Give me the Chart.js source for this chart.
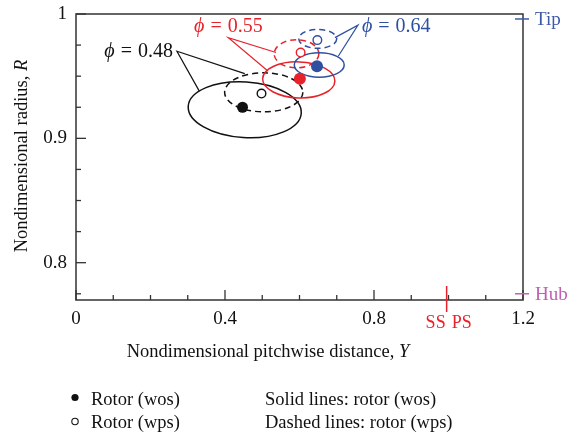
<!DOCTYPE html>
<html><head><meta charset="utf-8">
<script src="https://cdn.jsdelivr.net/npm/chart.js@4/dist/chart.umd.min.js"></script>
<style>html,body{margin:0;padding:0;background:#fff}#wrap{width:580px;height:436px}</style>
</head><body><div id="wrap"><canvas id="c" width="580" height="436"></canvas></div>
<script>
// ---- data ----
const flowCoefficients = ['0.48', '0.55', '0.64'];
// vortex centre, rotor without stall (wos) - filled dots
const wosY = [0.447, 0.601, 0.647];
const wosR = [0.925, 0.948, 0.958];
// vortex centre, rotor with stall (wps) - open dots
const wpsY = [0.498, 0.603, 0.648];
const wpsR = [0.936, 0.969, 0.979];
// solid contours (wos): centre and half extents
const solidCenterY = [0.453, 0.598, 0.653];
const solidCenterR = [0.923, 0.947, 0.959];
const solidHalfY = [0.152, 0.097, 0.067];
const solidHalfR = [0.0224, 0.0145, 0.0098];
const solidTiltDeg = [3.5, 2, 0];
// dashed contours (wps)
const dashedCenterY = [0.504, 0.592, 0.649];
const dashedCenterR = [0.937, 0.968, 0.980];
const dashedHalfY = [0.105, 0.060, 0.051];
const dashedHalfR = [0.0157, 0.0113, 0.0076];
// leader lines of the phi labels
const labelAnchorY = [0.271, 0.409, 0.757];
const labelAnchorR = [0.970, 0.981, 0.991];
const leaderSolidY = [0.331, 0.516, 0.704];
const leaderSolidR = [0.938, 0.954, 0.966];
const leaderDashedY = [0.453, 0.537, 0.695];
const leaderDashedR = [0.952, 0.969, 0.981];
// axes
const xMajorTicks = [0, 0.4, 0.8, 1.2];
const xTickLabels = ['0', '0.4', '0.8', '1.2'];
const xMinorTicks = [0.1, 0.2, 0.3, 0.5, 0.6, 0.7, 0.9, 1.0, 1.1];
const yMajorTicks = [0.8, 0.9, 1];
const yTickLabels = ['0.8', '0.9', '1'];
const yMinorTicks = [0.775, 0.825, 0.85, 0.875, 0.925, 0.95, 0.975];
const tipR = 0.996;
const hubR = 0.775;
const bladeSurfaceY = 0.995;

// ---- styles ----
const colors = ['#111111', '#e8222b', '#2f50a1'];
const SERIF = '"Liberation Serif", "DejaVu Serif", serif';
const font = (s, it) => (it ? 'italic ' : '') + s + 'px ' + SERIF;

const wosData = wosY.map((v, i) => ({x: v, y: wosR[i]}));
const wpsData = wpsY.map((v, i) => ({x: v, y: wpsR[i]}));
const leaderSets = flowCoefficients.map((f, i) => ({
  label: 'phi ' + f,
  data: [{x: leaderSolidY[i], y: leaderSolidR[i]}, {x: labelAnchorY[i], y: labelAnchorR[i]}, {x: leaderDashedY[i], y: leaderDashedR[i]}],
  showLine: true, borderColor: colors[i], borderWidth: 1.2, pointRadius: 0, fill: false, order: 3
}));

function tickLabelFor(list, labels) {
  return v => { const k = list.findIndex(t => Math.abs(t - v) < 1e-9); return k >= 0 ? labels[k] : ''; };
}

const overlay = {
  id: 'overlay',
  beforeDatasetsDraw(chart) {
    const {ctx, scales: {x, y}} = chart;
    const drawEll = (cy, cr, hy, hr, tilt, dashed, col) => {
      const px = x.getPixelForValue(cy), py = y.getPixelForValue(cr);
      const rx = Math.abs(x.getPixelForValue(cy + hy) - px);
      const ry = Math.abs(y.getPixelForValue(cr + hr) - py);
      ctx.save();
      ctx.strokeStyle = col; ctx.lineWidth = 1.5;
      ctx.setLineDash(dashed ? [6, 4] : []);
      ctx.beginPath(); ctx.ellipse(px, py, rx, ry, tilt * Math.PI / 180, 0, Math.PI * 2); ctx.stroke();
      ctx.restore();
    };
    flowCoefficients.forEach((f, i) => {
      drawEll(dashedCenterY[i], dashedCenterR[i], dashedHalfY[i], dashedHalfR[i], 0, true, colors[i]);
      drawEll(solidCenterY[i], solidCenterR[i], solidHalfY[i], solidHalfR[i], solidTiltDeg[i], false, colors[i]);
    });
  },
  afterDraw(chart) {
    const {ctx, chartArea: a, scales: {x, y}} = chart;
    ctx.save();
    // frame
    ctx.strokeStyle = '#333'; ctx.lineWidth = 1.5;
    ctx.strokeRect(a.left, a.top, a.right - a.left, a.bottom - a.top);
    // inward ticks
    ctx.lineWidth = 1.3;
    const tx = (v, len) => { const p = x.getPixelForValue(v); ctx.beginPath(); ctx.moveTo(p, a.bottom); ctx.lineTo(p, a.bottom - len); ctx.stroke(); };
    const ty = (v, len) => { const p = y.getPixelForValue(v); ctx.beginPath(); ctx.moveTo(a.left, p); ctx.lineTo(a.left + len, p); ctx.stroke(); };
    xMajorTicks.forEach(v => tx(v, 10)); xMinorTicks.forEach(v => tx(v, 5));
    yMajorTicks.forEach(v => ty(v, 10)); yMinorTicks.forEach(v => ty(v, 5));
    // Tip / Hub
    const side = (r, col, txt) => {
      const p = y.getPixelForValue(r);
      ctx.strokeStyle = col; ctx.lineWidth = 1.5;
      ctx.beginPath(); ctx.moveTo(a.right - 8, p); ctx.lineTo(a.right + 6, p); ctx.stroke();
      ctx.fillStyle = col; ctx.font = font(19); ctx.textAlign = 'left'; ctx.textBaseline = 'middle';
      ctx.fillText(txt, a.right + 12, p + 1);
    };
    side(tipR, '#3d5aa8', 'Tip');
    side(hubR, '#c060b4', 'Hub');
    // SS PS blade line
    const bx = x.getPixelForValue(bladeSurfaceY);
    ctx.strokeStyle = '#e8222b'; ctx.lineWidth = 1.5;
    ctx.beginPath(); ctx.moveTo(bx, a.bottom - 14); ctx.lineTo(bx, a.bottom + 12); ctx.stroke();
    ctx.fillStyle = '#e8222b'; ctx.font = font(18); ctx.textBaseline = 'middle';
    ctx.textAlign = 'right'; ctx.fillText('SS', bx - 1, a.bottom + 23);
    ctx.textAlign = 'left'; ctx.fillText('PS', bx + 5, a.bottom + 23);
    // phi labels
    const phiLabel = (i, px, py, align) => {
      ctx.fillStyle = colors[i]; ctx.textBaseline = 'middle'; ctx.textAlign = 'left';
      const gap = 6;
      ctx.font = font(20, true); const w1 = ctx.measureText('\u03D5').width;
      ctx.font = font(20); const w2 = ctx.measureText('=').width, w3 = ctx.measureText(flowCoefficients[i]).width;
      const tot = w1 + w2 + w3 + 2 * gap;
      let left = align === 'right' ? px - tot : align === 'center' ? px - tot / 2 : px;
      ctx.font = font(20, true); ctx.fillText('\u03D5', left, py);
      ctx.font = font(20); ctx.fillText('=', left + w1 + gap, py);
      ctx.fillText(flowCoefficients[i], left + w1 + w2 + 2 * gap, py);
    };
    const ax = i => x.getPixelForValue(labelAnchorY[i]), ay = i => y.getPixelForValue(labelAnchorR[i]);
    phiLabel(0, ax(0) - 4, ay(0), 'right');
    phiLabel(1, ax(1), ay(1) - 11, 'center');
    phiLabel(2, ax(2) + 4, ay(2) + 2, 'left');
    // axis titles
    ctx.fillStyle = '#111';
    const mixed = (a1, a2, cx, cy) => {
      ctx.font = font(18.5); const w1 = ctx.measureText(a1).width;
      ctx.font = font(18.5, true); const w2 = ctx.measureText(a2).width;
      const l = cx - (w1 + w2) / 2;
      ctx.textAlign = 'left'; ctx.textBaseline = 'middle';
      ctx.font = font(18.5); ctx.fillText(a1, l, cy);
      ctx.font = font(18.5, true); ctx.fillText(a2, l + w1, cy);
    };
    mixed('Nondimensional pitchwise distance, ', 'Y', 268, 352);
    ctx.save(); ctx.translate(22, 156); ctx.rotate(-Math.PI / 2);
    mixed('Nondimensional radius, ', 'R', 0, 0);
    ctx.restore();
    // legend
    ctx.font = font(18.5); ctx.textAlign = 'left'; ctx.textBaseline = 'alphabetic'; ctx.fillStyle = '#111';
    ctx.beginPath(); ctx.arc(75, 397.5, 3.6, 0, Math.PI * 2); ctx.fill();
    ctx.strokeStyle = '#111'; ctx.lineWidth = 1.1;
    ctx.beginPath(); ctx.arc(75, 421.5, 3.2, 0, Math.PI * 2); ctx.stroke();
    ctx.fillText('Rotor (wos)', 91, 405);
    ctx.fillText('Rotor (wps)', 91, 427.5);
    ctx.fillText('Solid lines: rotor (wos)', 265, 405);
    ctx.fillText('Dashed lines: rotor (wps)', 265, 427.5);
    ctx.restore();
  }
};

new Chart(document.getElementById('c'), {
  type: 'scatter',
  data: {
    datasets: [
      ...leaderSets,
      {label: 'Rotor (wos)', data: wosData, pointRadius: [5.5, 6, 6], pointBackgroundColor: colors, pointBorderColor: colors, pointBorderWidth: 0, order: 1},
      {label: 'Rotor (wps)', data: wpsData, pointRadius: 4.3, pointBackgroundColor: '#ffffff', pointBorderColor: colors, pointBorderWidth: 1.4, order: 2}
    ]
  },
  options: {
    responsive: false, animation: false, devicePixelRatio: 1,
    layout: {padding: {top: 14, right: 57, left: 0, bottom: 0}},
    plugins: {legend: {display: false}, tooltip: {enabled: false}},
    events: [],
    scales: {
      x: {
        type: 'linear', min: 0, max: 1.2,
        afterFit: s => { s.height = 136; },
        afterBuildTicks: s => { s.ticks = xMajorTicks.map(v => ({value: v})); },
        grid: {display: false, drawTicks: false},
        border: {display: false},
        ticks: {callback: tickLabelFor(xMajorTicks, xTickLabels), padding: 8, color: '#111', font: {family: SERIF, size: 19}, maxRotation: 0, autoSkip: false}
      },
      y: {
        type: 'linear', min: 0.77, max: 1,
        afterFit: s => { s.width = 76; s.paddingTop = 0; },
        afterBuildTicks: s => { s.ticks = yMajorTicks.map(v => ({value: v})); },
        grid: {display: false, drawTicks: false},
        border: {display: false},
        ticks: {callback: tickLabelFor(yMajorTicks, yTickLabels), padding: 9, color: '#111', font: {family: SERIF, size: 19}, autoSkip: false}
      }
    }
  },
  plugins: [overlay]
});
</script></body></html>
